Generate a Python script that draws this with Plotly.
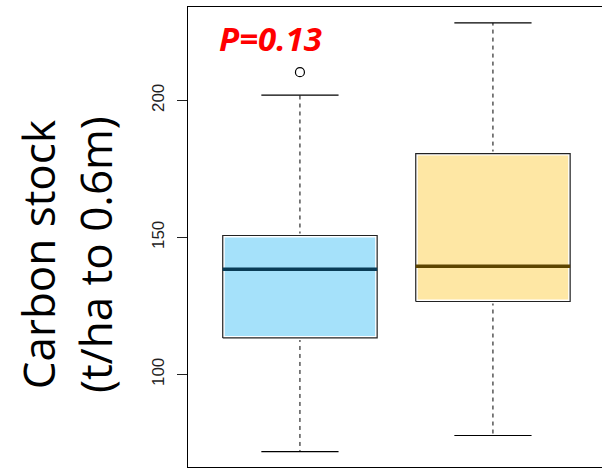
import plotly.graph_objects as go

# Summary statistics for the two groups (t/ha to 0.6 m)
positions = [1, 2]
q1 = [113.3, 126.6]
median = [138.4, 139.5]
q3 = [150.7, 180.6]
lower_whisker = [71.8, 77.7]
upper_whisker = [201.9, 228.3]
outliers = [[210.3], []]

fill_colors = ["#A5E1FA", "#FEE7A4"]
median_colors = ["#093C56", "#5D4500"]

y_ticks = [100, 150, 200]
p_label = "P=0.13"

BOX_HALF = 0.4      # boxwex 0.8
CAP_HALF = 0.2      # staple at half box width

fig = go.Figure()

for i, x in enumerate(positions):
    # dashed whiskers
    for end, edge in ((lower_whisker[i], q1[i]), (upper_whisker[i], q3[i])):
        fig.add_trace(go.Scatter(
            x=[x, x], y=[edge, end], mode="lines",
            line=dict(color="black", width=1, dash="4px,4px"),
            hoverinfo="skip", showlegend=False))
        # whisker caps
        fig.add_trace(go.Scatter(
            x=[x - CAP_HALF, x + CAP_HALF], y=[end, end], mode="lines",
            line=dict(color="black", width=1.2),
            hoverinfo="skip", showlegend=False))

    bx = [x - BOX_HALF, x + BOX_HALF, x + BOX_HALF, x - BOX_HALF, x - BOX_HALF]
    by = [q1[i], q1[i], q3[i], q3[i], q1[i]]
    # filled box with a thin light rim inside the frame
    fig.add_trace(go.Scatter(
        x=bx, y=by, mode="lines", fill="toself", fillcolor=fill_colors[i],
        line=dict(color="white", width=4),
        hoverinfo="skip", showlegend=False))
    fig.add_trace(go.Scatter(
        x=bx, y=by, mode="lines",
        line=dict(color="#222222", width=1.2),
        hoverinfo="skip", showlegend=False))
    # median bar
    fig.add_trace(go.Scatter(
        x=[x - BOX_HALF, x + BOX_HALF], y=[median[i], median[i]], mode="lines",
        line=dict(color=median_colors[i], width=3.5),
        hoverinfo="skip", showlegend=False))
    # outlying points
    if outliers[i]:
        fig.add_trace(go.Scatter(
            x=[x] * len(outliers[i]), y=outliers[i], mode="markers",
            marker=dict(symbol="circle-open", size=9, color="black",
                        line=dict(width=1.2)),
            hoverinfo="skip", showlegend=False))

fig.add_annotation(
    x=0.57, y=222.6, xref="x", yref="y", xanchor="left", yanchor="middle",
    text=f"<b><i>{p_label}</i></b>", showarrow=False,
    font=dict(family="Open Sans", size=33, color="#FF0000"))

fig.add_annotation(
    x=-0.292, y=0.461, xref="paper", yref="paper",
    xanchor="center", yanchor="middle", textangle=-90,
    text="Carbon stock<br>(t/ha to 0.6m)", showarrow=False,
    font=dict(family="Open Sans", size=44, color="black"))

fig.update_layout(
    width=602, height=469,
    margin=dict(l=188, r=0, t=7, b=2),
    plot_bgcolor="white", paper_bgcolor="white",
    xaxis=dict(range=[0.42, 2.565], showgrid=False, zeroline=False,
               showticklabels=False, ticks="", showline=True, mirror=True,
               linecolor="black", linewidth=1.2),
    yaxis=dict(range=[66.2, 234.1], showgrid=False, zeroline=False,
               tickvals=y_ticks, ticktext=[str(v) for v in y_ticks],
               ticks="outside", ticklen=10, tickcolor="#222222", tickwidth=1,
               tickangle=-90, ticklabelstandoff=6,
               tickfont=dict(family="Liberation Sans", size=17, color="#222222"),
               showline=True, linecolor="black", linewidth=1.2),
)

fig.write_html("out.html")
